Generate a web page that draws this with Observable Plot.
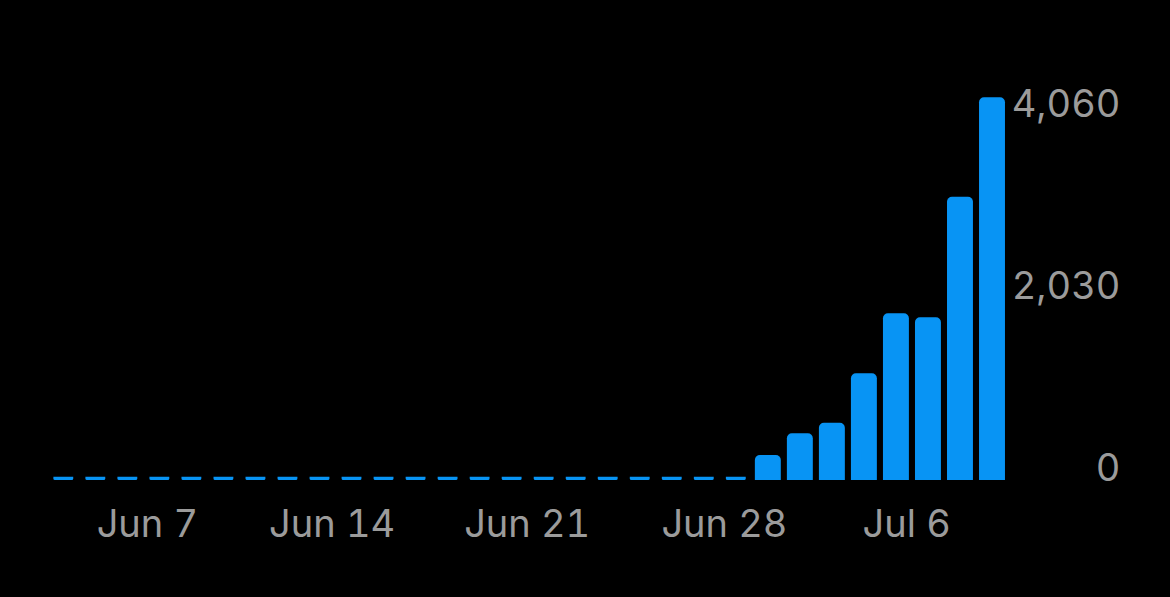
<!DOCTYPE html>
<html>
<head>
<meta charset="utf-8">
<script src="https://cdn.jsdelivr.net/npm/d3@7"></script>
<script src="https://cdn.jsdelivr.net/npm/@observablehq/plot@0.6"></script>
<style>
  html, body { margin: 0; padding: 0; background: #000; }
  #chart svg { display: block; }
</style>
</head>
<body>
<div id="chart"></div>
<script>
// Day index of each bar (30 consecutive days)
const days = d3.range(30);
// Daily values
const values = [
  0, 0, 0, 0, 0, 0, 0, 0, 0, 0,
  0, 0, 0, 0, 0, 0, 0, 0, 0, 0,
  0, 0, 279, 521, 639, 1190, 1859, 1815, 3160, 4268
];
// X tick positions (in day-index units) and their labels
const xTickPos = [2.61, 8.38, 14.47, 20.63, 26.32];
const xTickLabels = ["Jun 7", "Jun 14", "Jun 21", "Jun 28", "Jul 6"];
// Y ticks
const yTicks = [0, 2030, 4060];

const data = days.map((d, i) => ({day: d, value: values[i]}));
const nonzero = data.filter(d => d.value > 0);
const zeros = data.filter(d => d.value === 0);

const blue = "#0894f4";
const grey = "#9b9b9b";

const chart = Plot.plot({
  width: 1170,
  height: 597,
  marginLeft: 63.3,
  marginRight: 178,
  marginTop: 116,
  marginBottom: 117,
  style: {background: "#000", fontFamily: "Inter, 'Noto Sans', sans-serif", fontSize: "38px", color: grey},
  x: {type: "linear", domain: [0, 29]},
  y: {domain: [0, 4060]},
  marks: [
    Plot.rect(nonzero, {
      x1: d => d.day - 0.405, x2: d => d.day + 0.405,
      y1: 0, y2: "value",
      fill: blue, ry2: 5
    }),
    Plot.rect(zeros, {
      x1: d => d.day - 0.31, x2: d => d.day + 0.31,
      y1: 0, y2: 0, insetTop: -3.3,
      fill: blue, ry2: 1.5
    }),
    Plot.axisY({
      anchor: "right", ticks: yTicks, tickSize: 0,
      tickFormat: d3.format(","), textAnchor: "end",
      lineAnchor: "bottom", dx: 119, dy: 0,
      fill: grey, fontSize: 38, label: null
    }),
    Plot.axisX({
      anchor: "bottom", ticks: xTickPos, tickSize: 0,
      tickFormat: (d, i) => xTickLabels[i],
      lineAnchor: "bottom", dy: 47,
      fill: grey, fontSize: 38, label: null
    })
  ]
});
document.getElementById("chart").appendChild(chart);
</script>
</body>
</html>
